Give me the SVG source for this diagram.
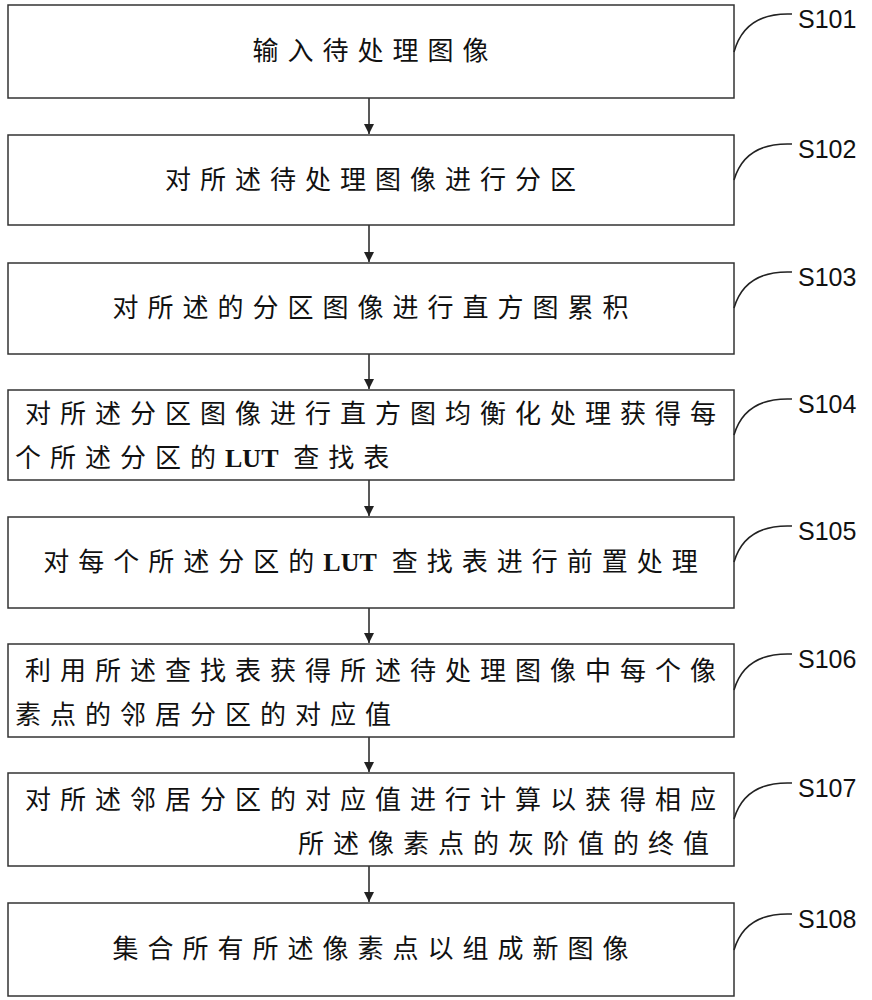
<svg xmlns="http://www.w3.org/2000/svg" width="872" height="1000" viewBox="0 0 872 1000">
<defs>
<marker id="ah" markerWidth="12" markerHeight="12" refX="10" refY="5" orient="auto" markerUnits="userSpaceOnUse"><path d="M0,0 L10,5 L0,10 z" fill="#222"/></marker>
<style>
.box{fill:#fff;stroke:#333;stroke-width:1.5}
.t{font-family:"Noto Sans CJK SC","Liberation Serif",serif;font-size:26px;letter-spacing:9px;fill:#111;text-anchor:middle}
.s{text-anchor:start}
.u{font-family:"Liberation Serif",serif;font-weight:bold;letter-spacing:0px}
.l{font-family:"Liberation Sans",Arial,sans-serif;font-size:25px;fill:#111}
.c{fill:none;stroke:#222;stroke-width:1.5}
</style>
</defs>
<rect width="872" height="1000" fill="#fff"/>
<g id="connectors">
<line class="c" x1="369" y1="98" x2="369" y2="134" marker-end="url(#ah)"/>
<line class="c" x1="369" y1="225" x2="369" y2="262" marker-end="url(#ah)"/>
<line class="c" x1="369" y1="354" x2="369" y2="389" marker-end="url(#ah)"/>
<line class="c" x1="369" y1="480" x2="369" y2="516" marker-end="url(#ah)"/>
<line class="c" x1="369" y1="608" x2="369" y2="643" marker-end="url(#ah)"/>
<line class="c" x1="369" y1="737" x2="369" y2="772" marker-end="url(#ah)"/>
<line class="c" x1="369" y1="866" x2="369" y2="902" marker-end="url(#ah)"/>
</g>
<g id="n1"><rect class="box" x="8" y="5" width="726" height="93"/><text class="t" x="375" y="60">输入待处理图像</text><path class="c" d="M734,52 Q745,12 792,14"/><text class="l" x="798" y="28">S101</text></g>
<g id="n2"><rect class="box" x="8" y="135" width="726" height="90"/><text class="t" x="375" y="189">对所述待处理图像进行分区</text><path class="c" d="M734,180 Q745,142 792,144"/><text class="l" x="798" y="158">S102</text></g>
<g id="n3"><rect class="box" x="8" y="263" width="726" height="91"/><text class="t" x="375" y="317">对所述的分区图像进行直方图累积</text><path class="c" d="M734,308 Q745,270 792,272"/><text class="l" x="798" y="286">S103</text></g>
<g id="n4"><rect class="box" x="8" y="390" width="726" height="90"/><text class="t" x="375" y="423">对所述分区图像进行直方图均衡化处理获得每</text><text class="t s" x="15" y="467">个所述分区的<tspan class="u">LUT</tspan> 查找表</text><path class="c" d="M734,435 Q745,397 792,399"/><text class="l" x="798" y="413">S104</text></g>
<g id="n5"><rect class="box" x="8" y="517" width="726" height="91"/><text class="t" x="375" y="571">对每个所述分区的<tspan class="u">LUT</tspan> 查找表进行前置处理</text><path class="c" d="M734,562 Q745,524 792,526"/><text class="l" x="798" y="540">S105</text></g>
<g id="n6"><rect class="box" x="8" y="644" width="726" height="93"/><text class="t" x="375" y="680">利用所述查找表获得所述待处理图像中每个像</text><text class="t s" x="15" y="724">素点的邻居分区的对应值</text><path class="c" d="M734,690 Q745,652 792,654"/><text class="l" x="798" y="668">S106</text></g>
<g id="n7"><rect class="box" x="8" y="773" width="726" height="93"/><text class="t" x="375" y="809">对所述邻居分区的对应值进行计算以获得相应</text><text class="t s" x="298" y="853">所述像素点的灰阶值的终值</text><path class="c" d="M734,819 Q745,781 792,783"/><text class="l" x="798" y="797">S107</text></g>
<g id="n8"><rect class="box" x="8" y="903" width="726" height="93"/><text class="t" x="375" y="958">集合所有所述像素点以组成新图像</text><path class="c" d="M734,950 Q745,912 792,914"/><text class="l" x="798" y="928">S108</text></g>
</svg>
